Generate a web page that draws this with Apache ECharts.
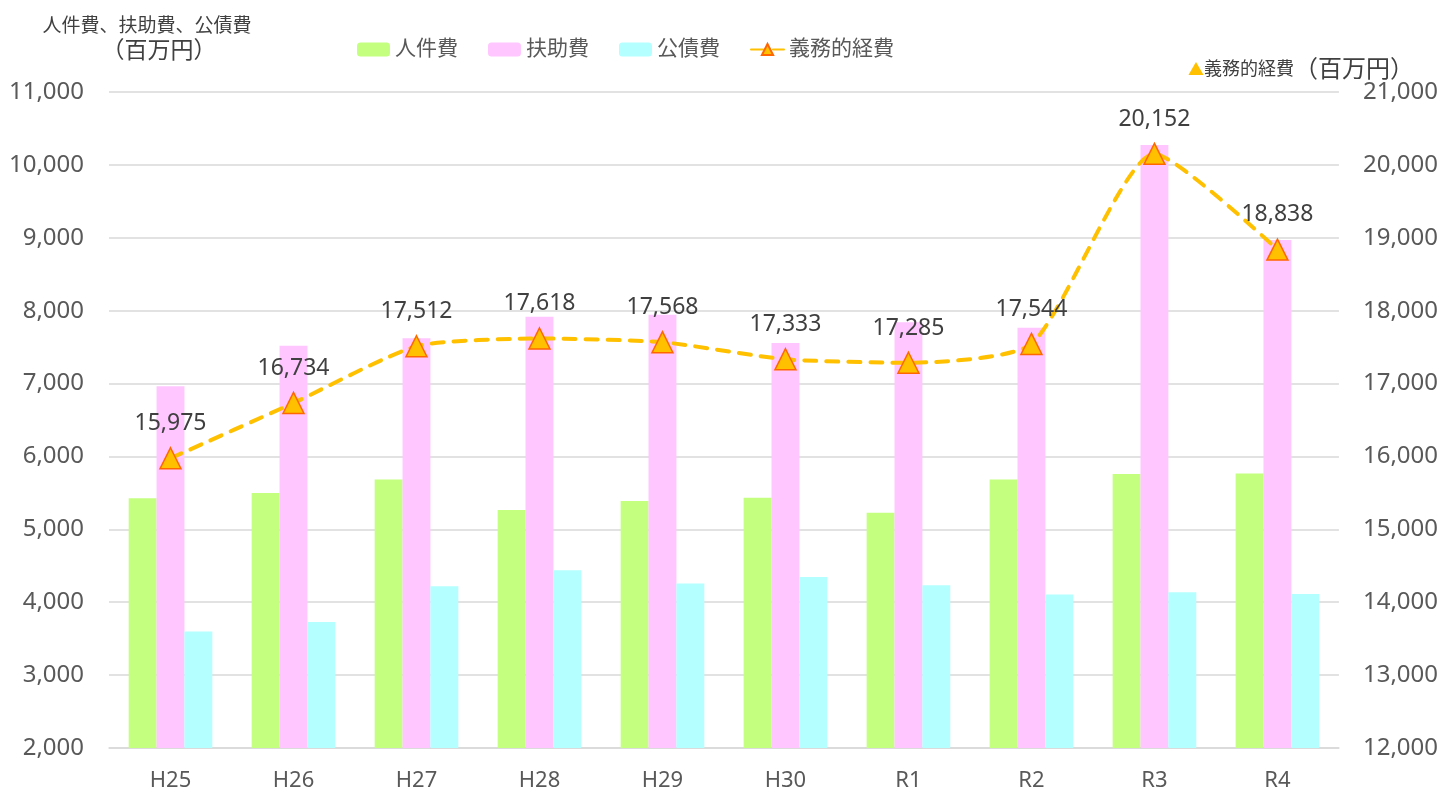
<!DOCTYPE html>
<html>
<head>
<meta charset="utf-8">
<script src="https://cdn.jsdelivr.net/npm/echarts@6/dist/echarts.min.js"></script>
<style>
  html, body { margin: 0; padding: 0; background: #fff; }
  #chart { width: 1441px; height: 792px; }
</style>
</head>
<body>
<div id="chart"></div>
<script>
// data
const years = ['H25', 'H26', 'H27', 'H28', 'H29', 'H30', 'R1', 'R2', 'R3', 'R4'];
const personnel = [5425, 5497, 5685, 5264, 5388, 5433, 5228, 5685, 5758, 5767];   // 人件費
const assistance = [6963, 7520, 7621, 7918, 7945, 7557, 7840, 7767, 10274, 8968]; // 扶助費
const debt = [3600, 3730, 4219, 4438, 4256, 4347, 4233, 4105, 4137, 4114];        // 公債費
const mandatory = [15975, 16734, 17512, 17618, 17568, 17333, 17285, 17544, 20152, 18838]; // 義務的経費

const FONT = "'Noto Sans', 'Noto Sans CJK JP', sans-serif";
const fmt = v => Number(v).toLocaleString('en-US');

const chart = echarts.init(document.getElementById('chart'));

chart.setOption({
    backgroundColor: '#fff',
    textStyle: { fontFamily: FONT },
    animation: false,
    title: [
        {
            text: '人件費、扶助費、公債費',
            left: 142, top: 12, textAlign: 'center',
            textStyle: { fontSize: 19, fontWeight: 'normal', color: '#404040', fontFamily: FONT }
        },
        {
            text: '（百万円）',
            left: 154, top: 35, textAlign: 'center',
            textStyle: { fontSize: 23, fontWeight: 'normal', color: '#404040', fontFamily: FONT }
        },
        {
            text: '{tri|▲}{a|義務的経費}{b|（百万円）}',
            right: 22, top: 53,
            textStyle: {
                fontWeight: 'normal',
                rich: {
                    tri: { fontSize: 16, color: '#FFC000', fontWeight: 'normal', fontFamily: FONT },
                    a: { fontSize: 18, color: '#404040', fontWeight: 'normal', fontFamily: FONT },
                    b: { fontSize: 24, color: '#404040', fontWeight: 'normal', fontFamily: FONT }
                }
            }
        }
    ],
    legend: {
        left: 352, top: 34,
        itemWidth: 33, itemHeight: 14, itemGap: 30,
        textStyle: { fontSize: 21, color: '#595959', fontFamily: FONT },
        data: ['人件費', '扶助費', '公債費', '義務的経費']
    },
    grid: { left: 109, right: 100, top: 92, bottom: 43 },
    xAxis: {
        type: 'category',
        data: years,
        axisLine: { lineStyle: { color: '#d9d9d9', width: 1.5 } },
        axisTick: { show: false },
        axisLabel: { fontSize: 22, color: '#595959', margin: 22, fontFamily: FONT }
    },
    yAxis: [
        {
            type: 'value', min: 2000, max: 11000, interval: 1000,
            axisLine: { show: false }, axisTick: { show: false },
            splitLine: { lineStyle: { color: '#d9d9d9', width: 1.5 } },
            axisLabel: { fontSize: 24, color: '#595959', margin: 25, formatter: fmt, fontFamily: FONT }
        },
        {
            type: 'value', min: 12000, max: 21000, interval: 1000,
            axisLine: { show: false }, axisTick: { show: false },
            splitLine: { show: false },
            axisLabel: { fontSize: 24, color: '#595959', margin: 24, formatter: fmt, fontFamily: FONT }
        }
    ],
    series: [
        {
            name: '人件費', type: 'bar', data: personnel,
            barGap: '0%', barCategoryGap: '32%',
            itemStyle: { color: '#C4FF80' }
        },
        {
            name: '扶助費', type: 'bar', data: assistance,
            itemStyle: { color: '#FFC6FF' }
        },
        {
            name: '公債費', type: 'bar', data: debt,
            itemStyle: { color: '#B4FFFF' }
        },
        {
            name: '義務的経費', type: 'line', yAxisIndex: 1, data: mandatory,
            smooth: 0.2,
            symbol: 'triangle', symbolSize: 21,
            itemStyle: { color: '#FFC000', borderColor: '#FF6600', borderWidth: 1.5 },
            lineStyle: { color: '#FFC000', width: 4, type: [12, 10], cap: 'round' },
            label: {
                show: true, position: 'top', distance: 12,
                fontSize: 23, color: '#404040', formatter: p => fmt(p.value), fontFamily: FONT
            },
            z: 5
        }
    ]
});
</script>
</body>
</html>
